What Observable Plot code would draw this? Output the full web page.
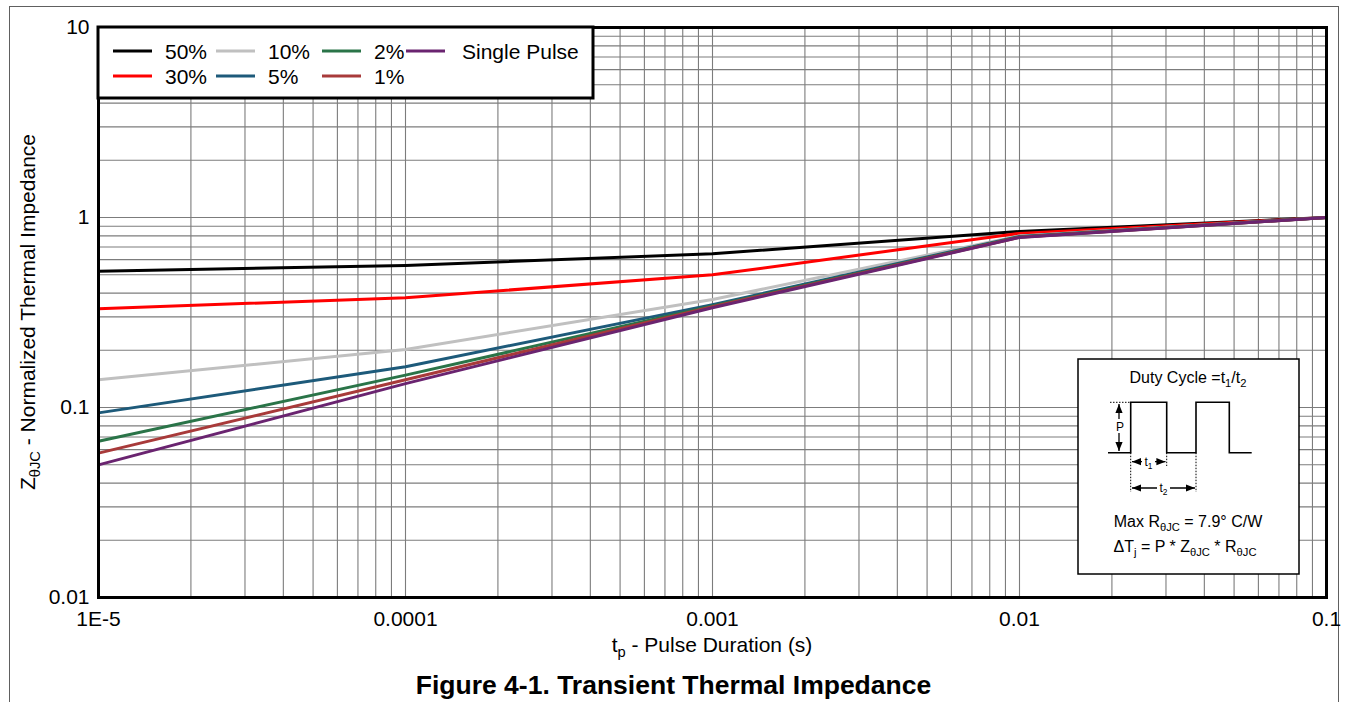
<!DOCTYPE html>
<html><head><meta charset="utf-8">
<script src="https://cdn.jsdelivr.net/npm/d3@7"></script>
<script src="https://cdn.jsdelivr.net/npm/@observablehq/plot@0.6"></script>
<style>
body{margin:0;background:#fff;overflow:hidden;font-family:"Liberation Sans",Arial,sans-serif;}
#frame{position:absolute;left:9px;top:6px;width:1330px;height:800px;border:1.5px solid #606060;box-sizing:border-box}
#chart{position:absolute;left:0;top:0}
#title{position:absolute;left:0;top:672px;width:1347px;text-align:center;font-weight:bold;font-size:26.5px;line-height:26px;color:#000}
</style></head>
<body>
<div id="frame"></div>
<div id="chart"></div>
<div id="title">Figure 4-1. Transient Thermal Impedance</div>
<script>
// ---- data ----
const tp = [1e-5, 1e-4, 1e-3, 1e-2, 1e-1];
const seriesNames = ["50%", "30%", "10%", "5%", "2%", "1%", "Single Pulse"];
const seriesColors = ["#000000", "#ff0000", "#c0c0c0", "#1d5a7a", "#2a7448", "#a83a3a", "#6a2470"];
const z50 = [0.522, 0.559, 0.644, 0.844, 1.0];
const z30 = [0.331, 0.378, 0.499, 0.825, 1.0];
const z10 = [0.140, 0.202, 0.370, 0.800, 1.0];
const z5  = [0.0937, 0.164, 0.348, 0.795, 1.0];
const z2  = [0.0665, 0.148, 0.342, 0.790, 1.0];
const z1  = [0.0575, 0.140, 0.339, 0.787, 1.0];
const zSP = [0.0499, 0.1335, 0.335, 0.785, 1.0];
const xTickValues = [1e-5, 1e-4, 1e-3, 1e-2, 1e-1];
const xTickLabels = ["1E-5", "0.0001", "0.001", "0.01", "0.1"];
const yTickValues = [0.01, 0.1, 1, 10];
const yTickLabels = ["0.01", "0.1", "1", "10"];

const seriesValues = [z50, z30, z10, z5, z2, z1, zSP];
const table = [];
seriesNames.forEach((s, i) => tp.forEach((t, j) => table.push({series: s, t, z: seriesValues[i][j]})));
const xLab = new Map(xTickValues.map((v, i) => [v, xTickLabels[i]]));
const yLab = new Map(yTickValues.map((v, i) => [v, yTickLabels[i]]));
const gridX = d3.scaleLog().domain([1e-5, 0.1]).ticks();
const gridY = d3.scaleLog().domain([0.01, 10]).ticks();

const plot = Plot.plot({
  width: 1347, height: 662,
  marginLeft: 98, marginRight: 21, marginTop: 27, marginBottom: 65,
  x: {type: "log", domain: [1e-5, 0.1]},
  y: {type: "log", domain: [0.01, 10]},
  color: {domain: seriesNames, range: seriesColors},
  style: {fontSize: "21px", fontFamily: "'Liberation Sans', Arial, sans-serif", color: "#000", background: "transparent", overflow: "visible"},
  marks: [
    Plot.ruleX(gridX, {stroke: "#7c7c7c", strokeWidth: 1.1}),
    Plot.ruleY(gridY, {stroke: "#7c7c7c", strokeWidth: 1.1}),
    Plot.line(table, {x: "t", y: "z", z: "series", stroke: "series", strokeWidth: 3}),
    Plot.frame({stroke: "#000", strokeWidth: 3}),
    Plot.axisX({ticks: xTickValues, tickFormat: d => xLab.get(d), tickSize: 0, tickPadding: 14, label: null}),
    Plot.axisY({ticks: yTickValues, tickFormat: d => yLab.get(d), tickSize: 0, tickPadding: 9, label: null})
  ]
});
document.getElementById("chart").appendChild(plot);

const svg = d3.select(plot);
const sx = plot.scale("x"), sy = plot.scale("y");
const L = Math.min(...sx.range), R = Math.max(...sx.range);
const T = Math.min(...sy.range), B = Math.max(...sy.range);
const FF = "'Liberation Sans', Arial, sans-serif";

function richText(g, parts, attrs) {
  const t = g.append("text").attr("font-family", FF).attr("fill", "#000");
  for (const k in attrs) t.attr(k, attrs[k]);
  const base = +attrs["font-size"];
  let lowered = false;
  parts.forEach(p => {
    if (typeof p === "string") {
      const s = t.append("tspan").text(p);
      if (lowered) { s.attr("dy", -base * 0.25); lowered = false; }
    } else {
      t.append("tspan").attr("dy", base * 0.25).attr("font-size", base * 0.7).text(p.sub);
      lowered = true;
    }
  });
  return t;
}

// axis titles
richText(svg, ["t", {sub: "p"}, " - Pulse Duration (s)"], {x: (L + R) / 2, y: 652, "text-anchor": "middle", "font-size": 21});
const gy = svg.append("g").attr("transform", `translate(35,${(T + B) / 2}) rotate(-90)`);
richText(gy, ["Z", {sub: "\u03b8JC"}, " - Normalized Thermal Impedance"], {x: 0, y: 0, "text-anchor": "middle", "font-size": 21});

// legend
const lg = svg.append("g");
lg.append("rect").attr("x", L).attr("y", T).attr("width", 495).attr("height", 71)
  .attr("fill", "#fff").attr("stroke", "#000").attr("stroke-width", 3);
const colLine = [113, 216, 322, 406], colText = [165, 268, 374, 462], rowY = [51, 76];
seriesNames.forEach((s, i) => {
  const c = Math.floor(i / 2), r = i % 2;
  lg.append("line").attr("x1", colLine[c]).attr("x2", colLine[c] + 39).attr("y1", rowY[r]).attr("y2", rowY[r])
    .attr("stroke", seriesColors[i]).attr("stroke-width", 3);
  lg.append("text").attr("x", colText[c]).attr("y", rowY[r] + 7.5).attr("font-size", 21).attr("font-family", FF)
    .attr("text-anchor", "start").attr("fill", "#000").text(s);
});

// inset diagram
const ig = svg.append("g");
const defs = svg.append("defs");
defs.append("marker").attr("id", "arr").attr("viewBox", "0 0 10 10").attr("refX", 10).attr("refY", 5)
  .attr("markerWidth", 7).attr("markerHeight", 7).attr("orient", "auto-start-reverse")
  .append("path").attr("d", "M0,1 L10,5 L0,9 z").attr("fill", "#000");
ig.append("rect").attr("x", 1078).attr("y", 359).attr("width", 221).attr("height", 215)
  .attr("fill", "#fff").attr("stroke", "#000").attr("stroke-width", 1.5);
richText(ig, ["Duty Cycle =t", {sub: "1"}, "/t", {sub: "2"}], {x: 1188, y: 383, "text-anchor": "middle", "font-size": 16});
ig.append("path").attr("d", "M1108,452.7 H1130.7 V402.3 H1166.7 V452.7 H1196 V402.3 H1229.3 V452.7 H1251.7")
  .attr("fill", "none").attr("stroke", "#000").attr("stroke-width", 1.6);
const dots = [[1110, 402.3, 1130.7, 402.3], [1130.7, 452.7, 1130.7, 492], [1166.7, 452.7, 1166.7, 466], [1196, 452.7, 1196, 492]];
dots.forEach(d => ig.append("line").attr("x1", d[0]).attr("y1", d[1]).attr("x2", d[2]).attr("y2", d[3])
  .attr("stroke", "#000").attr("stroke-width", 1).attr("stroke-dasharray", "1.5,1.5"));
const arrows = [[1119, 404, 1119, 451], [1132, 461.7, 1165.5, 461.7], [1132, 488, 1195, 488]];
arrows.forEach(a => ig.append("line").attr("x1", a[0]).attr("y1", a[1]).attr("x2", a[2]).attr("y2", a[3])
  .attr("stroke", "#000").attr("stroke-width", 1.3).attr("marker-start", "url(#arr)").attr("marker-end", "url(#arr)"));
ig.append("rect").attr("x", 1114).attr("y", 419).attr("width", 11).attr("height", 14).attr("fill", "#fff");
ig.append("text").attr("x", 1120).attr("y", 431).attr("text-anchor", "middle").attr("font-size", 12).attr("font-family", FF).text("P");
ig.append("rect").attr("x", 1142).attr("y", 454).attr("width", 13).attr("height", 15).attr("fill", "#fff");
richText(ig, ["t", {sub: "1"}], {x: 1148.5, y: 466, "text-anchor": "middle", "font-size": 12});
ig.append("rect").attr("x", 1157).attr("y", 480).attr("width", 13).attr("height", 15).attr("fill", "#fff");
richText(ig, ["t", {sub: "2"}], {x: 1163.5, y: 492, "text-anchor": "middle", "font-size": 12});
richText(ig, ["Max R", {sub: "\u03b8JC"}, " = 7.9\u00b0 C/W"], {x: 1188, y: 527, "text-anchor": "middle", "font-size": 16});
richText(ig, ["\u0394T", {sub: "j"}, " = P * Z", {sub: "\u03b8JC"}, " * R", {sub: "\u03b8JC"}], {x: 1185, y: 552, "text-anchor": "middle", "font-size": 16});
</script>
</body></html>
